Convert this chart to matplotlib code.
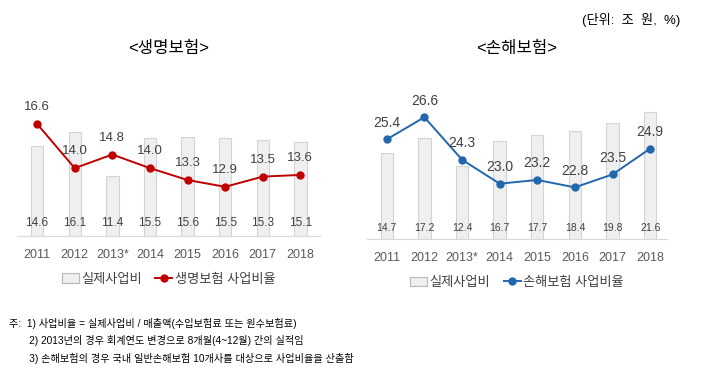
import numpy as np
import matplotlib
matplotlib.use("Agg")
import matplotlib.pyplot as plt
from matplotlib.patches import Patch
from matplotlib.lines import Line2D

plt.rcParams['font.family'] = ['Liberation Sans', 'Noto Sans CJK KR']

years = ['2011', '2012', '2013*', '2014', '2015', '2016', '2017', '2018']

life_cost = [14.6, 16.1, 11.4, 15.5, 15.6, 15.5, 15.3, 15.1]
life_ratio = [16.6, 14.0, 14.8, 14.0, 13.3, 12.9, 13.5, 13.6]

nonlife_cost = [14.7, 17.2, 12.4, 16.7, 17.7, 18.4, 19.8, 21.6]
nonlife_ratio = [25.4, 26.6, 24.3, 23.0, 23.2, 22.8, 23.5, 24.9]

notes = [
    "주:  1) 사업비율 = 실제사업비 / 매출액(수입보험료 또는 원수보험료)",
    "       2) 2013년의 경우 회계연도 변경으로 8개월(4~12월) 간의 실적임",
    "       3) 손해보험의 경우 국내 일반손해보험 10개사를 대상으로 사업비율을 산출함",
]

fig = plt.figure(figsize=(7.15, 3.7), dpi=100)
fig.patch.set_facecolor('white')


def draw_panel(rect, cost, ratio, color, bar_lim, line_lim, xlim, title, label,
               bar_lbl_y, bar_lbl_size, line_lbl_size):
    ax = fig.add_axes(rect)
    x = np.arange(len(years))
    ax.bar(x, cost, width=0.33, color='#efefef', edgecolor='#d4d4d4', linewidth=0.8)
    ax.set_ylim(*bar_lim)
    ax.set_xlim(*xlim)
    for i, v in enumerate(cost):
        ax.text(i, bar_lbl_y, f'{v:.1f}', transform=ax.get_xaxis_transform(),
                ha='center', va='center', fontsize=bar_lbl_size, color='#404040')
    ax.set_yticks([])
    for s in ['top', 'left', 'right']:
        ax.spines[s].set_visible(False)
    ax.spines['bottom'].set_color('#d9d9d9')
    ax.set_xticks(x)
    ax.set_xticklabels(years, fontsize=9, color='#595959')
    ax.tick_params(axis='x', length=0, pad=9)

    ax2 = ax.twinx()
    ax2.plot(x, ratio, color=color, lw=1.4, marker='o', ms=5)
    ax2.set_ylim(*line_lim)
    ax2.set_yticks([])
    for s in ['top', 'left', 'right', 'bottom']:
        ax2.spines[s].set_visible(False)
    for i, v in enumerate(ratio):
        ax2.annotate(f'{v:.1f}', (i, v), xytext=(0, 12), textcoords='offset points',
                     ha='center', va='center', fontsize=line_lbl_size, color='#404040')
    ax.set_title(title, fontsize=12, pad=30)

    handles = [Patch(facecolor='#efefef', edgecolor='#b8b8b8', linewidth=0.8),
               Line2D([], [], color=color, lw=1.4, marker='o', ms=5)]
    ax.legend(handles, ['실제사업비', label], loc='upper center',
              bbox_to_anchor=(0.5, -0.18), ncol=2, frameon=False, fontsize=9.5,
              handlelength=1.3, handletextpad=0.2, columnspacing=1.0,
              labelcolor='#404040')
    return ax


draw_panel([0.024, 0.362, 0.424, 0.381], life_cost, life_ratio, '#c00000',
           (5, 20.1), (10, 18.3), (-0.53, 7.53), '<생명보험>', '생명보험 사업비율',
           0.092, 8.5, 9.5)
draw_panel([0.513, 0.354, 0.42, 0.389], nonlife_cost, nonlife_ratio, '#2067ae',
           (0, 24.5), (20, 27.8), (-0.53, 7.45), '<손해보험>', '손해보험 사업비율',
           0.076, 7.5, 10)

fig.text(0.952, 0.945, '(단위:  조  원,  %)', ha='right', va='center', fontsize=9.5)

for i, line in enumerate(notes):
    fig.text(0.012, 1 - (323 + 17.5 * i) / 370, line, ha='left', va='center', fontsize=7.3)

fig.savefig('out.png', dpi=100)
